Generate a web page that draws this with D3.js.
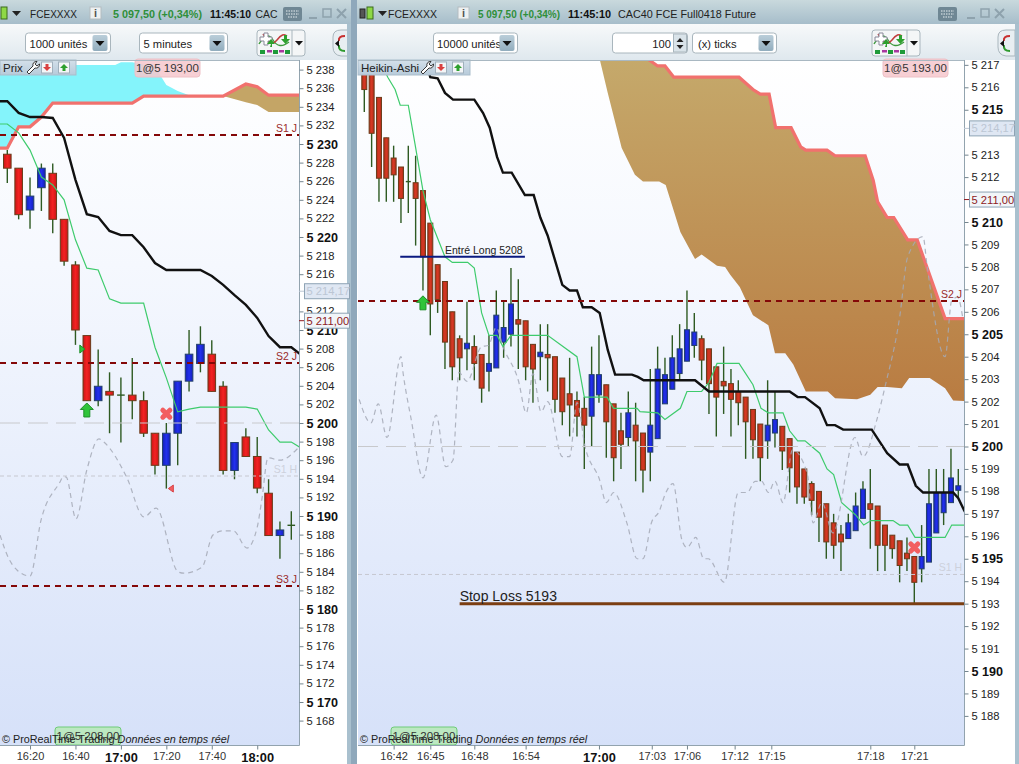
<!DOCTYPE html>
<html>
<head>
<meta charset="utf-8">
<title>FCEXXXX</title>
<script src="https://cdn.jsdelivr.net/npm/d3@7"></script>
<style>
  html, body { margin: 0; padding: 0; background: #a4bccb; overflow: hidden; }
  text { font-family: "Liberation Sans", Arial, sans-serif; }
</style>
</head>
<body>
<svg id="chart" width="1019" height="764"></svg>
<script>
// ---- 5 minute bars, left window ----
const leftOpen  = [5228.9,5227.4,5222.9,5225.3,5226.85,5221.9,5217,5209.4,5202.4,5203.4,5203,5203,5202.4,5198.9,5195.45,5198.9,5204.5,5206.4,5207.4,5203.95,5194.9,5198.5,5196.4,5192.45,5187.9,5189]
const leftClose = [5227.4,5222.4,5224.4,5227.4,5221.9,5217.4,5210,5202.4,5203.95,5203,5203,5202.4,5198.9,5195.45,5198.9,5204.5,5207.4,5208.46,5203.4,5194.9,5197.9,5196.4,5193,5187.9,5188.5,5189]
const leftHigh  = [5229.35,5227.4,5226.4,5227.9,5227.9,5221.9,5217.4,5209.4,5207.9,5205.45,5204.9,5207,5203.4,5198.9,5200,5204.5,5210,5210.4,5208.9,5204.5,5197.9,5199.43,5198.5,5193.95,5189.4,5190.5]
const leftLow   = [5225.8,5221.9,5220.9,5222.8,5220.4,5216.9,5208.4,5202.4,5201.8,5198.9,5197.9,5200.4,5198.5,5194.45,5192.95,5195.45,5203.4,5205.45,5203.4,5194.45,5193.95,5196.4,5192.45,5187.9,5185.4,5187.45]
const leftTimeIdx = [2,6,10,14,18,22]
const leftTimeLabels = ['16:20','16:40','17:00','17:20','17:40','18:00']
const leftTimeBold = ['17:00','18:00']

const leftSpanAIdx = [-1,0,1,2,3,4,11,12,19,21,22,23,26]
const leftSpanA = [5229.55,5229.55,5231.85,5231.85,5232.9,5234.4,5234.4,5235.15,5235.15,5236.45,5236.15,5235.25,5235.25]
const leftSpanBIdx = [-1,5.9,6,9.5,10,11,13,14,15,16,17,19,21,22,23,26]
const leftSpanB = [5240,5240,5238.5,5238.5,5238.8,5238.8,5238.3,5236.35,5235.7,5235.25,5235.15,5235.15,5234.5,5234.2,5233.45,5233.45]
const leftKijunIdx = [-1,0,1,2,3,4,5,6,7,8,9,10,11,12,13,14,17,18,19,20,21,22,23,24,25,26]
const leftKijun = [5234.6,5234.6,5233.35,5232.9,5232.9,5232.8,5230.65,5226.15,5222.45,5222.15,5220.65,5220.2,5220.2,5218.9,5217.2,5216.45,5216.45,5215.8,5214.85,5213.75,5212.7,5211.3,5209.35,5208.15,5208.15,5207.2]
const leftTenkanIdx = [-1,0,1,2,3,4,5,6,7,8,9,10,12,13,14,15,16,17,21,22,23,24,25,26]
const leftTenkan = [5232.15,5232.15,5231.2,5229.35,5226.45,5225.6,5224,5219.7,5216.65,5216.45,5213.35,5212.9,5212.9,5208.15,5204.85,5201.2,5201.5,5201.7,5201.7,5201.5,5199.25,5197.95,5197.95,5197.2]
const leftChikouIdx = [-0.64,0.06,0.85,2,2.97,4.64,4.9,5.17,6.05,7,8.07,8.5,10.5,12.03,13.1,15.03,15.55,17.14,18.1,19,19.9,21.1,22,22.4,22.95,24,25.6,26]
const leftChikou = [5187.95,5185.6,5184.2,5183.55,5189.55,5193.65,5194.2,5194.2,5189.7,5194.95,5198.3,5197.95,5194.2,5189.9,5190.85,5184,5183.85,5184.5,5187.95,5188.4,5188.4,5186.55,5188.8,5191.7,5196.25,5196,5197.3,5197.8]

// ---- 100 tick bars, right window ----
const rightOpen  = [5217.2,5216.8,5215.55,5213.75,5212.85,5212.45,5211.8,5211.75,5211.4,5209.95,5208.1,5207.35,5206,5204.8,5204.35,5204.45,5204.1,5203.35,5203.5,5204.65,5205,5205.65,5205.6,5204.55,5204,5204.1,5204,5203.05,5202.35,5202.05,5201.7,5201.35,5202.3,5202.75,5201.9,5200.7,5200.4,5200.95,5200.6,5199.75,5200.35,5201.9,5202.55,5203.25,5203.8,5204.5,5204.8,5204.35,5203.55,5202.9,5202.8,5202.45,5202.2,5201.65,5201,5200.25,5200.6,5200.9,5200.35,5199.75,5199,5198.35,5198,5197.45,5196.6,5196.1,5195.9,5196.25,5196.8,5197.45,5197.35,5196.5,5196.05,5195.8,5195.25,5195.1,5194.55,5194.85,5196.15,5197.05,5197.5,5198.05]
const rightClose = [5215.9,5213.95,5211.95,5211.95,5212.1,5211.05,5211.8,5211.05,5208.45,5206.35,5206.55,5204.65,5203.55,5203.95,5204.6,5203.7,5202.6,5203.7,5205.85,5205.3,5206.35,5205.45,5203.55,5203.45,5204.2,5203.95,5202.1,5201.55,5201.85,5201.35,5200.95,5203.2,5203.2,5201.1,5199.5,5200.1,5201.5,5200.25,5198.95,5200.95,5203.45,5203.2,5203.95,5204.35,5205.2,5205.1,5203.85,5202.8,5202.2,5202.7,5202.1,5201.95,5201.1,5200.3,5199.5,5200.95,5201.2,5199.8,5199.05,5198.2,5197.75,5197.6,5196.85,5195.75,5195.6,5195.75,5196.6,5197.35,5198.1,5197.2,5195.6,5195.6,5195.45,5194.7,5195,5193.95,5195.1,5197.45,5197.95,5197.95,5198.6,5198.25]
const rightHigh  = [5217.2,5217,5215.55,5213.75,5213.4,5212.45,5213.4,5212.95,5211.4,5209.95,5208.1,5207.35,5206,5204.95,5206.45,5204.95,5204.1,5204.95,5206.95,5206.45,5207.95,5207.45,5205.6,5204.55,5205.45,5205.45,5204,5203.05,5203.95,5202.45,5202.2,5204.45,5204.95,5202.75,5201.9,5201.5,5202.45,5201.95,5200.6,5203.45,5204.45,5203.95,5204.95,5205.45,5206.95,5205.95,5204.95,5204.35,5203.55,5204.45,5203.45,5202.95,5202.2,5201.65,5201,5202.95,5202.45,5200.9,5200.35,5199.75,5199,5198.45,5198,5197.45,5197,5196.5,5197,5197.95,5198.45,5199,5197.35,5196.5,5196.05,5195.8,5195.95,5195.1,5196.5,5199,5199,5199,5199.9,5199]
const rightLow   = [5214.9,5212.45,5210.9,5210.9,5210.9,5209.95,5210.4,5208.95,5206.95,5204.95,5205.95,5203.45,5202.95,5202.95,5203.4,5202.95,5201.95,5202.45,5203.5,5203.95,5204.45,5203.45,5202.95,5201.95,5202.95,5202.45,5201.5,5200.95,5200.45,5200.45,5199,5200,5201.95,5199.5,5198.45,5199,5200,5198.45,5197.95,5198.45,5200.35,5201.9,5202.55,5202.95,5203.8,5203.95,5202.95,5201.45,5200.45,5201.45,5200.45,5200.95,5199.45,5199.45,5198.45,5199.45,5199.95,5198.95,5197.95,5197.45,5197.45,5196.95,5195.75,5195,5195,5194.45,5195.9,5196.25,5196.8,5195.45,5194.45,5194.45,5195,5193.95,5194.45,5193,5193.95,5194.85,5196.15,5196.5,5197.5,5197.75]
const rightTimeIdx = [4,9,15,22,32,39.2,44,50.5,55.5,69,75]
const rightTimeLabels = ['16:42','16:45','16:48','16:54','17:00','17:03','17:06','17:12','17:15','17:18','17:21']
const rightTimeBold = ['17:00']

const rightSpanAIdx = [38,38.7,40,41,42.2,51.1,53,54,55.2,56.1,58.2,59.5,60.2,63.1,64.2,68.3,69.4,70,71.3,72.2,74.1,75.4,79.2,83]
const rightSpanA = [5217.6,5217.25,5216.95,5216.95,5216.45,5216.45,5215.9,5215.7,5215.7,5214.2,5214.2,5213.35,5213.2,5213.2,5212.95,5212.95,5211.85,5210.9,5210.2,5210.2,5209.2,5209.2,5205.7,5205.7]
const rightSpanBIdx = [31.5,32.1,33.2,35.1,36.9,38,40.2,41.1,43.1,45.1,46,48.1,49.2,49.9,51.2,53,55.1,56,57.4,58.5,60.2,63.2,64.2,67.2,69,70,71.3,73.3,74.3,77.1,79.2,80.3,83]
const rightSpanB = [5217.6,5217.25,5215.75,5213.3,5212.1,5211.8,5211.8,5211.65,5209.55,5208.35,5208.55,5208.05,5208,5207.65,5207.1,5205.85,5205.4,5204.15,5204.15,5203.65,5202.45,5202.45,5202.15,5202.1,5202.3,5202.65,5202.65,5202.6,5203.05,5203.05,5202.6,5202.05,5202]
const rightKijunIdx = [8.5,9,10,11,12.1,15,16.2,17.1,18.1,18.9,20.1,21.9,23.1,24,25,27,28,29,29.8,31,32.1,33.2,34.2,36.5,37.3,38.1,45.1,47,58,59.1,60.1,62.1,63.1,64.2,65.3,69.2,71.3,73,74.1,75.2,76.2,80.3,81,81.8,82.5]
const rightKijun = [5217,5216.45,5216.4,5215.75,5215.45,5215.45,5214.85,5214.2,5212.9,5212.2,5212.2,5211.2,5211.2,5210.2,5209.4,5207.2,5206.95,5206.95,5206.2,5206.2,5205.95,5204.3,5203.2,5203.2,5203.1,5202.95,5202.95,5202.45,5202.45,5202.2,5202.2,5201.7,5200.95,5200.95,5200.75,5200.75,5199.7,5199.2,5199.2,5198.25,5197.95,5197.95,5197.7,5197.15,5196.8]
const rightTenkanIdx = [2.1,3.2,4.2,4.9,6,6.9,8,9,11,12,14.1,15,16,17,18.1,18.9,20,25,29,30,33.1,34,37.2,37.6,40,41,43.1,44,46,47,48.1,51.1,53,54.1,55.1,57.1,58,59.1,60.1,62.1,63.1,64,65.1,67,68.1,69.1,72.1,73,74.1,75.1,79.2,80.1,82.5]
const rightTenkan = [5217.2,5216.45,5215.9,5215.2,5215.2,5213.5,5211.4,5210.1,5208.45,5208.2,5208.2,5207.95,5205.95,5204.95,5204.95,5204.45,5204.95,5204.95,5204,5202.2,5202.2,5201.7,5201.7,5201.55,5201.5,5201.2,5201.7,5202.45,5202.45,5202.85,5203.7,5203.7,5202.75,5201.7,5201.5,5201.5,5200.7,5200.25,5200.25,5199.7,5199,5198.75,5197.5,5196.95,5196.5,5196.7,5196.7,5196.5,5196.5,5195.95,5195.95,5196.5,5196.5]
const rightChikouIdx = [-0.7,0.9,1.9,3.1,5,5.3,6.4,8,9.8,11.1,12.1,12.9,14,16,16.9,18,18.9,21,22.1,23,24.1,25,27,28,29,30.1,32.1,33,34,35.8,37.2,38,39.2,40.2,41,42.1,43.3,44,45.2,46.3,46.9,49.1,51,52.2,53.3,54.2,55.1,56,57.1,58.4,60.4,61.2,62.4,63.9,66.9,68,69.9,71,73,74.1,76.2,76.7,79.2,80.1,80.9,81.6]
const rightChikou = [5202.1,5201.05,5201.9,5200.4,5204,5203.25,5201.2,5198.6,5201.4,5199.1,5199.4,5203.3,5202.9,5204.45,5204.5,5205.3,5204.45,5202.95,5201.5,5203.25,5201.55,5202,5199.55,5199.55,5201.95,5200,5198.5,5197.5,5197.95,5196.6,5195,5195,5196.65,5197.1,5197.85,5198.35,5195.85,5195.5,5195.95,5195,5195,5193.95,5197.95,5197.95,5198.45,5198.45,5197.95,5198.45,5197.5,5199.85,5198.8,5196.6,5197.5,5196.15,5200.4,5199.55,5201.2,5202.65,5205.75,5208.45,5209.35,5208.15,5204,5206.5,5206.65,5205.75]

// ---- levels shared by both windows ----
const lastPrice = 5211
const bidPrice = 5214.17
const levelNames = ['S1 J','S2 J','S3 J']
const levelPrices = [5231,5206.5,5182.5]
const hourLevelName = 'S1 H'
const hourLevelPrice = 5194.3
const closeLevelPrice = 5200
const entryPrice = 5208.45
const stopPrice = 5193

// the price boxes sit where these labels would be
const leftTicks = d3.range(5168, 5239, 2).filter(d => d !== 5214)
const rightTicks = d3.range(5188, 5218, 1).filter(d => d !== 5214 && d !== 5211)

const svg = d3.select('#chart')
const defs = svg.append('defs')

const priceText = d => { let s = String(d); return s[0] + ' ' + s.slice(1) }
const decimalText = d => { let s = d.toFixed(2).replace('.', ','); return s[0] + ' ' + s.slice(1) }

function vGrad(id, y0, y1, stops) {
    const g = defs.append('linearGradient').attr('id', id)
        .attr('gradientUnits', 'userSpaceOnUse').attr('x1', 0).attr('x2', 0).attr('y1', y0).attr('y2', y1)
    stops.forEach(s => g.append('stop').attr('offset', s[0]).attr('stop-color', s[1]))
}
function hGrad(id, stops) {
    const g = defs.append('linearGradient').attr('id', id).attr('x1', 0).attr('x2', 1).attr('y1', 0).attr('y2', 0)
    stops.forEach(s => g.append('stop').attr('offset', s[0]).attr('stop-color', s[1]))
}
vGrad('plotBg', 60, 745, [[0, '#ffffff'], [0.3, '#f5f8fe'], [1, '#d6e1f9']])
vGrad('titleBg', 0, 24, [[0, '#c9d9dd'], [1, '#a6bdca']])
vGrad('barBg', 24, 60, [[0, '#f7f9fa'], [1, '#dfe8ee']])
vGrad('cloudBg', 60, 400, [[0, '#c5a96b'], [1, '#b97c42']])
vGrad('toolBg', 60, 74, [[0, '#d4e0ea'], [1, '#b9ccdb']])
vGrad('btnBg', 34, 52, [[0, '#bdd0db'], [1, '#8fabbc']])
hGrad('redLeft', [[0, '#c81616'], [0.5, '#f42222'], [1, '#c81616']])
hGrad('redRight', [[0, '#b22a17'], [0.5, '#d63a24'], [1, '#b22a17']])
hGrad('blueBody', [[0, '#1420b8'], [0.5, '#2230ee'], [1, '#1420b8']])

// window frame
function drawChrome(c) {
    svg.append('rect').attr('x', c.x0).attr('y', 0).attr('width', c.x1 - c.x0).attr('height', 24).attr('fill', 'url(#titleBg)')
    svg.append('rect').attr('x', c.x0).attr('y', 24).attr('width', c.x1 - c.x0).attr('height', 36).attr('fill', 'url(#barBg)')
    svg.append('rect').attr('x', c.x0).attr('y', 60).attr('width', c.x1 - c.x0).attr('height', 704).attr('fill', '#ffffff')

    // candle icon + title
    svg.append('rect').attr('x', c.iconX).attr('y', 9).attr('width', 5).attr('height', 9).attr('fill', '#555').attr('stroke', '#222')
    svg.append('rect').attr('x', c.iconX + 7).attr('y', 7).attr('width', 6).attr('height', 12).attr('fill', '#8ed846').attr('stroke', '#3a6a1c')
    svg.append('path').attr('d', `M${c.iconX + 18},11 h9 l-4.5,5 z`).attr('fill', '#222')
    c.titles.forEach(t => {
        const s = svg.append('text').attr('x', t.x).attr('y', 17.5).attr('font-size', t.size || 11.5)
            .attr('font-weight', t.bold ? 'bold' : 'normal').attr('fill', t.color || '#222').text(t.s)
        if (t.w) s.attr('textLength', t.w).attr('lengthAdjust', 'spacingAndGlyphs')
    })
    // info button
    svg.append('rect').attr('x', c.infoX).attr('y', 7).attr('width', 11).attr('height', 12).attr('fill', '#eef1f2').attr('stroke', '#b4bcc0')
    svg.append('text').attr('x', c.infoX + 5.5).attr('y', 17).attr('text-anchor', 'middle').attr('font-size', 11).attr('font-weight', 'bold').attr('fill', '#555').text('i')
    // keyboard
    svg.append('rect').attr('x', c.keyX).attr('y', 7).attr('width', 19).attr('height', 14).attr('rx', 2).attr('fill', '#6f8794')
    svg.append('path').attr('d', `M${c.keyX + 3},11 h13 M${c.keyX + 3},14 h13 M${c.keyX + 5},17 h9`).attr('stroke', '#e8eef0').attr('stroke-dasharray', '1.5 1').attr('fill', 'none')
    // min, max, close
    svg.append('path').attr('d', `M${c.winX},18 h8`).attr('stroke', '#8ea2ad').attr('stroke-width', 2)
    svg.append('rect').attr('x', c.winX + 14).attr('y', 9).attr('width', 8).attr('height', 8).attr('fill', 'none').attr('stroke', '#8ea2ad').attr('stroke-width', 1.5)
    svg.append('path').attr('d', `M${c.winX + 28},9 l9,9 M${c.winX + 37},9 l-9,9`).attr('stroke', '#8ea2ad').attr('stroke-width', 2)

    // drop down boxes
    c.boxes.forEach(b => {
        svg.append('rect').attr('x', b.x).attr('y', 33).attr('width', b.w).attr('height', 20).attr('rx', 3).attr('fill', '#fff').attr('stroke', '#a9b6bd')
        svg.append('text').attr('x', b.tx || b.x + 4).attr('y', 47.5).attr('text-anchor', b.anchor || 'start').attr('font-size', 11.2).attr('fill', '#222').text(b.s)
        if (b.spin) {
            svg.append('rect').attr('x', b.x + b.w - 14).attr('y', 34).attr('width', 13).attr('height', 18).attr('fill', '#d9e3e9').attr('stroke', '#a9b6bd')
            svg.append('path').attr('d', `M${b.x + b.w - 11},42 l3.5,-4 l3.5,4 z M${b.x + b.w - 11},45 l3.5,4 l3.5,-4 z`).attr('fill', '#222')
        } else {
            svg.append('rect').attr('x', b.x + b.w - 18).attr('y', 35).attr('width', 15).attr('height', 16).attr('rx', 2).attr('fill', 'url(#btnBg)')
            svg.append('path').attr('d', `M${b.x + b.w - 15},41 h9 l-4.5,5 z`).attr('fill', '#111')
        }
    })

    // indicator button
    const ix = c.indX
    svg.append('rect').attr('x', ix).attr('y', 30).attr('width', 48).attr('height', 26).attr('rx', 3).attr('fill', '#f4f6f7').attr('stroke', '#a9b6bd')
    svg.append('path').attr('d', `M${ix + 35},30 v26`).attr('stroke', '#a9b6bd')
    svg.append('path').attr('d', `M${ix + 2},44 q8,-14 14,-4 t16,2`).attr('fill', 'none').attr('stroke', '#3c9a3c').attr('stroke-width', 1.4)
    svg.append('path').attr('d', `M${ix + 6},34 q8,14 14,6 t10,-4`).attr('fill', 'none').attr('stroke', '#c23c3c').attr('stroke-width', 1.4)
    svg.append('path').attr('d', `M${ix + 3},37 h4 v-4 h4 v4 h4 v4 h-4 v4 h-4 v-4 h-4 z`).attr('fill', '#fff').attr('stroke', '#889')
    svg.append('path').attr('d', `M${ix + 14},44 l-4,0 l4,-5 l4,5 l-3,0 v3 h-2 z M${ix + 27},35 h3 v4 h3 l-4.5,5 l-4.5,-5 h3 z`).attr('fill', '#2ea02e')
    ;[3, 10, 16, 22, 28].forEach((d, i) => {
        svg.append('rect').attr('x', ix + d).attr('y', 50).attr('width', 5).attr('height', i % 2 ? 2.5 : 4).attr('fill', i % 2 ? '#a838a0' : '#1e9a3a')
    })
    svg.append('path').attr('d', `M${ix + 38},41 h8 l-4,4.5 z`).attr('fill', '#111')

    // side arrow button
    svg.append('path').attr('d', `M${c.arrowX + 17},30 h-9 q-8,0 -8,7 v10 q0,8 8,9 h9 z`).attr('fill', '#e8eef2').attr('stroke', '#a9b6bd')
    svg.append('path').attr('d', `M${c.arrowX + 12},36 q-7,0 -6,5`).attr('fill', 'none').attr('stroke', '#c83030').attr('stroke-width', 2)
    svg.append('path').attr('d', `M${c.arrowX + 12},51 q-7,0 -6,-6`).attr('fill', 'none').attr('stroke', '#2e9a2e').attr('stroke-width', 2)
    svg.append('path').attr('d', `M${c.arrowX + 2},43.5 l4,-3.5 v7 z`).attr('fill', '#111')

    // frame strips
    svg.append('rect').attr('x', c.x1 - 4).attr('y', 24).attr('width', 4).attr('height', 740).attr('fill', '#a9c0ce')
}

drawChrome({
    x0: 0, x1: 351, iconX: -6, infoX: 90, keyX: 283, winX: 309, indX: 257, arrowX: 333,
    titles: [{ x: 30, s: 'FCEXXXX', w: 47 }, { x: 113, s: '5 097,50 (+0,34%)', bold: true, color: '#2f8f3a', w: 89 },
             { x: 210, s: '11:45:10', bold: true, color: '#111', w: 41 }, { x: 255.5, s: 'CAC', w: 22 }],
    boxes: [{ x: 25.5, w: 85, s: '1000 unités', tx: 29.5 }, { x: 139.5, w: 88, s: '5 minutes', tx: 143.5 }]
})
drawChrome({
    x0: 357, x1: 1019, iconX: 360, infoX: 458, keyX: 938, winX: 967, indX: 872, arrowX: 998,
    titles: [{ x: 388, s: 'FCEXXXX', w: 49 }, { x: 478, s: '5 097,50 (+0,34%)', bold: true, color: '#2f8f3a', w: 82 },
             { x: 568, s: '11:45:10', bold: true, color: '#111', w: 43 }, { x: 618, s: 'CAC40 FCE Full0418 Future', w: 138 }],
    boxes: [{ x: 433.5, w: 84, s: '10000 unités', tx: 437 }, { x: 612.5, w: 75, s: '100', tx: 671, anchor: 'end', spin: true }, { x: 692.5, w: 84, s: '(x) ticks', tx: 698 }]
})
svg.append('rect').attr('x', 351).attr('y', 0).attr('width', 6).attr('height', 764).attr('fill', '#8fa8bb')

function arrowUp(g, x, y) {
    g.append('path').attr('d', `M${x},${y - 7} l6.5,6.5 h-3.5 v7.5 h-6 v-7.5 h-3.5 z`)
        .attr('fill', '#2fc43a').attr('stroke', '#1f8f2a').attr('stroke-width', 1)
}
function crossMark(g, x, y) {
    g.append('path').attr('d', `M${x - 3.5},${y - 3.5} L${x + 3.5},${y + 3.5} M${x + 3.5},${y - 3.5} L${x - 3.5},${y + 3.5}`)
        .attr('stroke', '#f25e60').attr('stroke-width', 5).attr('stroke-linecap', 'round').attr('fill', 'none')
}

function drawPanel(p) {
    const x = d3.scaleLinear().domain([0, p.open.length - 1]).range(p.xRange)
    const y = d3.scaleLinear().domain([5200, 5190]).range(p.yRange)
    const clipId = 'clip' + p.name
    defs.append('clipPath').attr('id', clipId).append('rect')
        .attr('x', p.left).attr('y', 60).attr('width', p.right - p.left).attr('height', 685)

    svg.append('rect').attr('x', p.left).attr('y', 60).attr('width', p.right - p.left).attr('height', 685).attr('fill', 'url(#plotBg)')
    const g = svg.append('g').attr('clip-path', `url(#${clipId})`)

    const line = d3.line().x(d => x(d[0])).y(d => y(d[1]))
    const pts = (idx, vals) => idx.map((d, i) => [d, vals[i]])
    const a = pts(p.spanAIdx, p.spanA), b = pts(p.spanBIdx, p.spanB)

    // cloud
    if (p.cloudSplit !== undefined) {
        const upA = a.filter(d => d[0] <= p.cloudSplit), upB = b.filter(d => d[0] <= p.cloudSplit)
        const dnA = a.filter(d => d[0] >= p.cloudSplit), dnB = b.filter(d => d[0] >= p.cloudSplit)
        g.append('path').attr('d', line(upA.concat(upB.slice().reverse())) + 'Z').attr('fill', '#84f4fb')
        g.append('path').attr('d', line(dnA.concat(dnB.slice().reverse())) + 'Z').attr('fill', '#c4a566')
    } else {
        g.append('path').attr('d', line(a.concat(b.slice().reverse())) + 'Z').attr('fill', 'url(#cloudBg)')
    }

    // candles
    const bars = p.open.map((o, i) => ({ i, o, c: p.close[i], h: p.high[i], l: p.low[i] }))
    g.selectAll('.wick').data(bars).join('line').attr('class', 'wick')
        .attr('x1', d => x(d.i)).attr('x2', d => x(d.i)).attr('y1', d => y(d.h)).attr('y2', d => y(d.l))
        .attr('stroke', '#2e5a22').attr('stroke-width', 1.4)
    g.selectAll('.body').data(bars.filter(d => d.o !== d.c)).join('rect').attr('class', 'body')
        .attr('x', d => x(d.i) - p.bodyW / 2).attr('width', p.bodyW)
        .attr('y', d => y(Math.max(d.o, d.c))).attr('height', d => Math.abs(y(d.o) - y(d.c)))
        .attr('fill', d => d.c > d.o ? 'url(#blueBody)' : `url(#${p.redFill})`)
        .attr('stroke', d => d.c > d.o ? '#23406a' : '#6a3c1a').attr('stroke-width', 1)
    g.selectAll('.doji').data(bars.filter(d => d.o === d.c)).join('line').attr('class', 'doji')
        .attr('x1', d => x(d.i) - p.bodyW / 2).attr('x2', d => x(d.i) + p.bodyW / 2)
        .attr('y1', d => y(d.c)).attr('y2', d => y(d.c)).attr('stroke', '#2e5a22').attr('stroke-width', 1.4)

    // salmon cloud edge, base lines
    g.append('path').attr('d', line(a)).attr('fill', 'none').attr('stroke', '#f1716e').attr('stroke-width', 3.2)
    g.append('path').attr('d', line(pts(p.tenkanIdx, p.tenkan))).attr('fill', 'none').attr('stroke', '#3ecb6c').attr('stroke-width', 1.2)
    g.append('path').attr('d', line(pts(p.kijunIdx, p.kijun))).attr('fill', 'none').attr('stroke', '#111').attr('stroke-width', 2.4)
    g.append('path').attr('d', line.curve(d3.curveMonotoneX)(pts(p.chikouIdx, p.chikou))).attr('fill', 'none')
        .attr('stroke', '#a5a9b6').attr('stroke-opacity', 0.85).attr('stroke-width', 1.2).attr('stroke-dasharray', '5 4')
    line.curve(d3.curveLinear)

    // levels
    levelPrices.forEach((lv, i) => {
        g.append('line').attr('x1', p.left).attr('x2', p.right).attr('y1', y(lv)).attr('y2', y(lv))
            .attr('stroke', '#840808').attr('stroke-width', 2).attr('stroke-dasharray', '6 5').attr('shape-rendering', 'crispEdges')
        g.append('text').attr('x', p.right - 2).attr('y', y(lv) - 3).attr('text-anchor', 'end')
            .attr('font-size', 10.5).attr('fill', '#9a2a2a').text(levelNames[i])
    })
    g.append('line').attr('x1', p.left).attr('x2', p.right).attr('y1', y(hourLevelPrice)).attr('y2', y(hourLevelPrice))
        .attr('stroke', '#c6c8d0').attr('stroke-width', 1).attr('stroke-dasharray', '4 3')
    g.append('text').attr('x', p.right - 2).attr('y', y(hourLevelPrice) - 3).attr('text-anchor', 'end')
        .attr('font-size', 10.5).attr('fill', '#cdd1dc').text(hourLevelName)
    g.append('line').attr('x1', p.left).attr('x2', p.right).attr('y1', y(closeLevelPrice)).attr('y2', y(closeLevelPrice))
        .attr('stroke', '#c8c9cc').attr('stroke-width', 1).attr('stroke-dasharray', '20 8')

    // trade markers
    p.arrows.forEach(m => arrowUp(g, x(m[0]), y(m[1])))
    p.crosses.forEach(m => crossMark(g, x(m[0]), y(m[1])))
    if (p.extras) p.extras(g, x, y)

    // order tags
    const tag = (tx, ty, w, fill, stroke, s) => {
        svg.append('rect').attr('x', tx).attr('y', ty).attr('width', w).attr('height', 18).attr('rx', 3)
            .attr('fill', fill).attr('stroke', stroke).attr('fill-opacity', 0.85)
        svg.append('text').attr('x', tx + w / 2).attr('y', ty + 13).attr('text-anchor', 'middle').attr('font-size', 11.5).attr('fill', '#333').text(s)
    }
    tag(p.sellTagX, 59, 65, '#f6c7cd', '#eec0c6', '1@5 193,00')
    tag(p.buyTagX, 727, 66, '#b7e9b7', '#6fcb78', '1@5 208,00')

    // tool strip
    svg.append('rect').attr('x', p.left).attr('y', 60).attr('width', p.toolW).attr('height', 15).attr('fill', 'url(#toolBg)').attr('stroke', '#a9bdcb')
    svg.append('text').attr('x', p.left + 3).attr('y', 71.5).attr('font-size', 11.5).attr('fill', '#222').text(p.toolName)
    const wx = p.left + p.toolW - 49
    svg.append('path').attr('d', `M${wx},72 l6,-6 a3.5,3.5 0 0 1 4,-4.5 l-2,2.5 l2,2 l2.5,-2 a3.5,3.5 0 0 1 -4.5,4 l-6,6 z`)
        .attr('fill', '#fff').attr('stroke', '#222').attr('stroke-width', 0.9)
    ;[[wx + 20, '#d94040', 'M-1.5,-3.5 h3 v3 h2.5 l-4,4 l-4,-4 h2.5 z'], [wx + 37, '#2ea02e', 'M-1.5,3.5 h3 v-3 h2.5 l-4,-4 l-4,4 h2.5 z']].forEach(b => {
        svg.append('rect').attr('x', b[0] - 5.5).attr('y', 62).attr('width', 11).attr('height', 11).attr('fill', '#f4f6f8').attr('stroke', '#a0b0bc')
        svg.append('path').attr('transform', `translate(${b[0]},67.5)`).attr('d', b[2]).attr('fill', b[1])
    })

    // credit
    const credit = svg.append('text').attr('x', p.left + 2).attr('y', 743).attr('font-size', 10.8).attr('fill', '#222')
    credit.append('tspan').text('© ProRealTime Trading  ')
    credit.append('tspan').attr('font-style', 'italic').text('Données en temps réel')

    // plot border + axes
    svg.append('path').attr('d', `M${p.left},745.5 H${p.right + 0.5} V60`).attr('fill', 'none').attr('stroke', '#92a3ae').attr('stroke-width', 1)
    svg.append('path').attr('d', `M${p.left},60.5 H${p.right}`).attr('stroke', '#a9b8c2').attr('fill', 'none')

    const yAxis = d3.axisRight(y).tickValues(p.ticks).tickFormat(priceText).tickSize(4).tickPadding(3)
    const ya = svg.append('g').attr('transform', `translate(${p.right + 0.5},0)`).call(yAxis)
    ya.select('.domain').remove()
    ya.selectAll('line').attr('stroke', '#74858f')
    ya.selectAll('text').attr('fill', '#222').attr('font-size', 11.2)
        .filter(d => d % p.boldEvery === 0).attr('font-weight', 'bold').attr('font-size', 12.6).attr('fill', '#111')

    const xAxis = d3.axisBottom(x).tickValues(p.timeIdx).tickFormat((d, i) => p.timeLabels[i]).tickSize(4).tickPadding(3)
    const xa = svg.append('g').attr('transform', 'translate(0,745.5)').call(xAxis)
    xa.select('.domain').remove()
    xa.selectAll('line').attr('stroke', '#74858f')
    xa.selectAll('text').attr('fill', '#333').attr('font-size', 11)
        .filter((d, i) => p.timeBold.includes(p.timeLabels[i])).attr('font-weight', 'bold').attr('font-size', 12.8).attr('fill', '#111')

    // price boxes on the scale
    const box = (v, fill, stroke, color) => {
        svg.append('line').attr('x1', p.right).attr('x2', p.right + 5).attr('y1', y(v)).attr('y2', y(v)).attr('stroke', color)
        svg.append('rect').attr('x', p.right + 5.5).attr('y', y(v) - 7.5).attr('width', 45).attr('height', 15).attr('fill', fill).attr('stroke', stroke)
        svg.append('text').attr('x', p.right + 7.5).attr('y', y(v) + 4).attr('font-size', 11.2).attr('fill', color).text(decimalText(v))
    }
    box(bidPrice, '#dfe7f3', '#8ea3b4', '#bcc6d4')
    box(lastPrice, '#f1f5f9', '#8ea3b4', '#8e1a22')
}

drawPanel({
    name: 'Left', left: 0, right: 299, xRange: [7.3, 291.3], yRange: [423, 516], bodyW: 7.6, redFill: 'redLeft',
    open: leftOpen, close: leftClose, high: leftHigh, low: leftLow,
    spanAIdx: leftSpanAIdx, spanA: leftSpanA, spanBIdx: leftSpanBIdx, spanB: leftSpanB, cloudSplit: 19,
    kijunIdx: leftKijunIdx, kijun: leftKijun, tenkanIdx: leftTenkanIdx, tenkan: leftTenkan,
    chikouIdx: leftChikouIdx, chikou: leftChikou,
    ticks: leftTicks, boldEvery: 10, timeIdx: leftTimeIdx, timeLabels: leftTimeLabels, timeBold: leftTimeBold,
    arrows: [[7, 5201.4]], crosses: [[14, 5201]],
    extras: (g, x, y) => {
        g.append('path').attr('d', `M${x(7) - 7},${y(5207.95) - 4} l5,4 l-5,4 z`).attr('fill', '#2fc43a').attr('stroke', '#1f8f2a')
        g.append('path').attr('d', `M${x(14) + 7},${y(5192.95) - 3.5} l-5,3.5 l5,3.5 z`).attr('fill', '#f25e60').attr('stroke', '#d84448')
    },
    sellTagX: 135, buyTagX: 55, toolW: 76, toolName: 'Prix'
})

drawPanel({
    name: 'Right', left: 358, right: 964, xRange: [364.3, 958.3], yRange: [446.5, 671], bodyW: 5, redFill: 'redRight',
    open: rightOpen, close: rightClose, high: rightHigh, low: rightLow,
    spanAIdx: rightSpanAIdx, spanA: rightSpanA, spanBIdx: rightSpanBIdx, spanB: rightSpanB,
    kijunIdx: rightKijunIdx, kijun: rightKijun, tenkanIdx: rightTenkanIdx, tenkan: rightTenkan,
    chikouIdx: rightChikouIdx, chikou: rightChikou,
    ticks: rightTicks, boldEvery: 5, timeIdx: rightTimeIdx, timeLabels: rightTimeLabels, timeBold: rightTimeBold,
    arrows: [[8, 5206.4]], crosses: [[75, 5195.5]],
    extras: (g, x, y) => {
        g.append('line').attr('x1', x(4.9)).attr('x2', x(21.9)).attr('y1', y(entryPrice)).attr('y2', y(entryPrice))
            .attr('stroke', '#0b1a80').attr('stroke-width', 2)
        g.append('text').attr('x', x(11)).attr('y', y(entryPrice) - 3).attr('font-size', 10.5).attr('fill', '#222').text('Entré Long 5208')
        g.append('line').attr('x1', x(13)).attr('x2', 964).attr('y1', y(stopPrice)).attr('y2', y(stopPrice))
            .attr('stroke', '#7b3e12').attr('stroke-width', 3)
        g.append('text').attr('x', x(13)).attr('y', y(stopPrice) - 3).attr('font-size', 14).attr('fill', '#222').text('Stop Loss 5193')
    },
    sellTagX: 883, buyTagX: 391, toolW: 112, toolName: 'Heikin-Ashi'
})
</script>
</body>
</html>
